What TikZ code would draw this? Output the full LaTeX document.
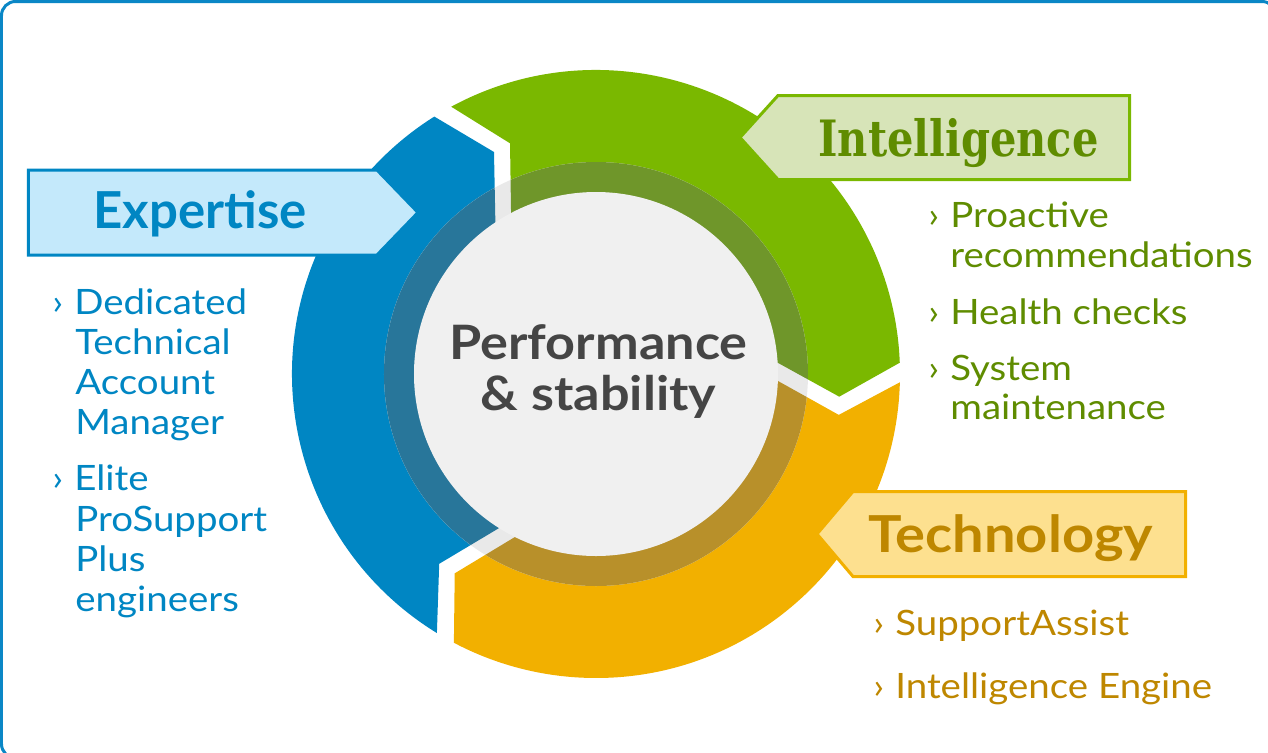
\documentclass[tikz,border=0pt]{standalone}
\usepackage{fontspec}
\usepackage{graphicx}
\setmainfont{Lato}
\newfontfamily\slabfont{DejaVu Serif}
\newfontfamily\itemfont[FakeStretch=1.1]{Lato}
\newfontfamily\headfont[FakeStretch=1.1]{Lato}

\definecolor{framec}{HTML}{0A87C6}
\definecolor{ringblue}{HTML}{0086C3}
\definecolor{ringgreen}{HTML}{7AB800}
\definecolor{ringgold}{HTML}{F2B000}
\definecolor{bandblue}{HTML}{28769A}
\definecolor{bandgreen}{HTML}{6F962A}
\definecolor{bandgold}{HTML}{B8902A}
\definecolor{bandgray}{HTML}{E9E9E9}
\definecolor{discgray}{HTML}{F0F0F0}
\definecolor{tagblue}{HTML}{C4E9FB}
\definecolor{taggreen}{HTML}{D7E4B8}
\definecolor{taggold}{HTML}{FDE08F}
\definecolor{intgreen}{HTML}{5F8C00}
\definecolor{techgold}{HTML}{BE8700}
\definecolor{centertext}{HTML}{454545}

% one arrow-shaped piece of the cycle ring (the left one); the other two are rotated copies
\newcommand\ringpiece{(0,0) -- (-44.6,-122.8) -- (-156.8,-189.8) -- (238.44:304)
  arc[start angle=238.44, end angle=122.13, radius=304] -- (-102,222) -- (-99.6,100) -- cycle}
\newcommand\bul{\makebox[12.5pt][l]{›}}

\begin{document}
\begin{tikzpicture}[x=0.02cm,y=0.02cm,
  tagbox/.style={line width=1.71pt, line join=miter},
  title/.style={inner sep=0, anchor=base, font=\fontsize{29}{30}\selectfont\bfseries},
  item/.style={inner sep=0, anchor=base west, font=\itemfont\fontsize{19.9}{22}\selectfont},
  centre/.style={inner sep=0, anchor=base, text=centertext, font=\headfont\fontsize{27}{28}\selectfont\bfseries}]
\useasboundingbox (-596,-378) rectangle (672,374);

% outer frame
\draw[framec, line width=1.71pt, rounded corners=0.28cm] (-594.5,-384) rectangle (680,372.5);

% cycle ring
\fill[ringblue] \ringpiece;
\begin{scope}[rotate=-120]\fill[ringgreen] \ringpiece;\end{scope}
\begin{scope}[rotate=120]\fill[ringgold] \ringpiece;\end{scope}

% darker inner band and centre disc
\fill[bandgray] (0,0) circle (212);
\begin{scope}
  \clip (0,0) circle (212);
  \fill[bandblue] \ringpiece;
  \begin{scope}[rotate=-120]\fill[bandgreen] \ringpiece;\end{scope}
  \begin{scope}[rotate=120]\fill[bandgold] \ringpiece;\end{scope}
\end{scope}
\fill[discgray] (0,0) circle (182);

% labels pointing at the ring
\draw[tagbox, draw=ringblue, fill=tagblue]
  (-567.5,204) -- (-219,204) -- (-178,161.5) -- (-219,119) -- (-567.5,119) -- cycle;
\draw[tagbox, draw=ringgreen, fill=taggreen]
  (533.5,278.5) -- (182,278.5) -- (144,236.5) -- (182,194.5) -- (533.5,194.5) -- cycle;
\draw[tagbox, draw=ringgold, fill=taggold]
  (589.5,-117.5) -- (257,-117.5) -- (221,-160) -- (257,-202.5) -- (589.5,-202.5) -- cycle;

\node[title, text=ringblue] (texp) at (-395.6,145.7) {Expertise};
\node[title, text=intgreen, font=\fontsize{28.5}{30}\slabfont\bfseries] (tint) at (362.4,217.2) {\scalebox{0.83}[1]{Intelligence}};
\node[title, text=techgold, font=\headfont\fontsize{29}{30}\selectfont\bfseries] (ttech) at (415,-178.7) {Technology};

% centre caption
\node[centre] (perf) at (2.5,14.7) {Performance};
\node[centre] (stab) at (2.6,-36.4) {\& stability};

% expertise items
\begin{scope}[every node/.append style={item, text=ringblue}]
\node (e1) at (-544,60) {\bul Dedicated};
\node (e2) at (-521,20) {Technical};
\node (e3) at (-521,-20) {Account};
\node (e4) at (-521,-60) {Manager};
\node (e5) at (-544,-116) {\bul Elite};
\node (e6) at (-521,-157) {ProSupport};
\node (e7) at (-521,-197) {Plus};
\node (e8) at (-521,-237) {engineers};
\end{scope}

% intelligence items
\begin{scope}[every node/.append style={item, text=intgreen}]
\node (i1) at (332,146.5) {\bul Proactive};
\node (i2) at (354,107) {recommendations};
\node (i3) at (332,50) {\bul Health checks};
\node (i4) at (332,-6) {\bul System};
\node (i5) at (354,-45) {maintenance};
\end{scope}

% technology items
\begin{scope}[every node/.append style={item, text=techgold}]
\node (t1) at (277,-261) {\bul SupportAssist};
\node (t2) at (277,-324) {\bul Intelligence Engine};
\end{scope}
\end{tikzpicture}
\end{document}
